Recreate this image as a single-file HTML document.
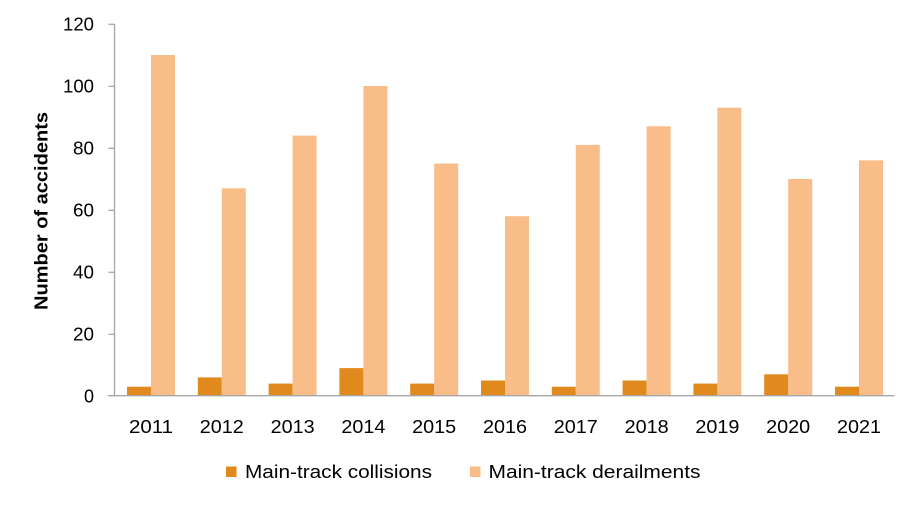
<!DOCTYPE html>
<html>
<head>
<meta charset="utf-8">
<style>
  html, body { margin: 0; padding: 0; background: #ffffff; }
  svg { display: block; }
  text { font-family: "Liberation Sans", sans-serif; fill: #000; }
</style>
</head>
<body>
<svg width="917" height="505" viewBox="0 0 917 505" xmlns="http://www.w3.org/2000/svg">
  <rect x="0" y="0" width="917" height="505" fill="#ffffff"/>

  <!-- bars -->
  <g>
    <rect x="127" y="386.7" width="24" height="9.3" fill="#E08A1E"/>
    <rect x="151" y="55" width="24" height="341" fill="#F9BD8A"/>
    <rect x="197.8" y="377.4" width="24" height="18.6" fill="#E08A1E"/>
    <rect x="221.8" y="188.3" width="24" height="207.7" fill="#F9BD8A"/>
    <rect x="268.6" y="383.6" width="24" height="12.4" fill="#E08A1E"/>
    <rect x="292.6" y="135.6" width="24" height="260.4" fill="#F9BD8A"/>
    <rect x="339.4" y="368.1" width="24" height="27.9" fill="#E08A1E"/>
    <rect x="363.4" y="86" width="24" height="310" fill="#F9BD8A"/>
    <rect x="410.2" y="383.6" width="24" height="12.4" fill="#E08A1E"/>
    <rect x="434.2" y="163.5" width="24" height="232.5" fill="#F9BD8A"/>
    <rect x="481" y="380.5" width="24" height="15.5" fill="#E08A1E"/>
    <rect x="505" y="216.2" width="24" height="179.8" fill="#F9BD8A"/>
    <rect x="551.8" y="386.7" width="24" height="9.3" fill="#E08A1E"/>
    <rect x="575.8" y="144.9" width="24" height="251.1" fill="#F9BD8A"/>
    <rect x="622.6" y="380.5" width="24" height="15.5" fill="#E08A1E"/>
    <rect x="646.6" y="126.3" width="24" height="269.7" fill="#F9BD8A"/>
    <rect x="693.4" y="383.6" width="24" height="12.4" fill="#E08A1E"/>
    <rect x="717.4" y="107.7" width="24" height="288.3" fill="#F9BD8A"/>
    <rect x="764.2" y="374.3" width="24" height="21.7" fill="#E08A1E"/>
    <rect x="788.2" y="179" width="24" height="217" fill="#F9BD8A"/>
    <rect x="835" y="386.7" width="24" height="9.3" fill="#E08A1E"/>
    <rect x="859" y="160.4" width="24" height="235.6" fill="#F9BD8A"/>
  </g>

  <!-- axes -->
  <g stroke="#A6A6A6" stroke-width="1.3" fill="none">
    <line x1="114.5" y1="24" x2="114.5" y2="396"/>
    <line x1="108" y1="395.7" x2="894.5" y2="395.7"/>
    <line x1="108.5" y1="24.3" x2="114.5" y2="24.3"/>
    <line x1="108.5" y1="86.3" x2="114.5" y2="86.3"/>
    <line x1="108.5" y1="148.3" x2="114.5" y2="148.3"/>
    <line x1="108.5" y1="210.3" x2="114.5" y2="210.3"/>
    <line x1="108.5" y1="272.3" x2="114.5" y2="272.3"/>
    <line x1="108.5" y1="334.3" x2="114.5" y2="334.3"/>
  </g>

  <!-- y tick labels -->
  <g font-size="18" text-anchor="end">
    <text x="94" y="30.5" textLength="31" lengthAdjust="spacingAndGlyphs">120</text>
    <text x="94" y="92.5" textLength="31" lengthAdjust="spacingAndGlyphs">100</text>
    <text x="94" y="154.5" textLength="21" lengthAdjust="spacingAndGlyphs">80</text>
    <text x="94" y="216.5" textLength="21" lengthAdjust="spacingAndGlyphs">60</text>
    <text x="94" y="278.5" textLength="21" lengthAdjust="spacingAndGlyphs">40</text>
    <text x="94" y="340.5" textLength="21" lengthAdjust="spacingAndGlyphs">20</text>
    <text x="94" y="402.5">0</text>
  </g>

  <!-- y axis title -->
  <text x="0" y="0" font-size="18" font-weight="bold" text-anchor="middle"
        transform="translate(47.5,211) rotate(-90)" textLength="198" lengthAdjust="spacingAndGlyphs">Number of accidents</text>

  <!-- x tick labels -->
  <g font-size="18" text-anchor="middle">
    <text x="151" y="433" textLength="44" lengthAdjust="spacingAndGlyphs">2011</text>
    <text x="221.8" y="433" textLength="44" lengthAdjust="spacingAndGlyphs">2012</text>
    <text x="292.6" y="433" textLength="44" lengthAdjust="spacingAndGlyphs">2013</text>
    <text x="363.4" y="433" textLength="44" lengthAdjust="spacingAndGlyphs">2014</text>
    <text x="434.2" y="433" textLength="44" lengthAdjust="spacingAndGlyphs">2015</text>
    <text x="505" y="433" textLength="44" lengthAdjust="spacingAndGlyphs">2016</text>
    <text x="575.8" y="433" textLength="44" lengthAdjust="spacingAndGlyphs">2017</text>
    <text x="646.6" y="433" textLength="44" lengthAdjust="spacingAndGlyphs">2018</text>
    <text x="717.4" y="433" textLength="44" lengthAdjust="spacingAndGlyphs">2019</text>
    <text x="788.2" y="433" textLength="44" lengthAdjust="spacingAndGlyphs">2020</text>
    <text x="859" y="433" textLength="44" lengthAdjust="spacingAndGlyphs">2021</text>
  </g>

  <!-- legend -->
  <rect x="226" y="466.5" width="10.5" height="10.5" fill="#E08A1E"/>
  <text x="245" y="478" font-size="18" textLength="187" lengthAdjust="spacingAndGlyphs">Main-track collisions</text>
  <rect x="470" y="466.5" width="10.5" height="10.5" fill="#F9BD8A"/>
  <text x="488.5" y="478" font-size="18" textLength="212" lengthAdjust="spacingAndGlyphs">Main-track derailments</text>
</svg>
</body>
</html>
